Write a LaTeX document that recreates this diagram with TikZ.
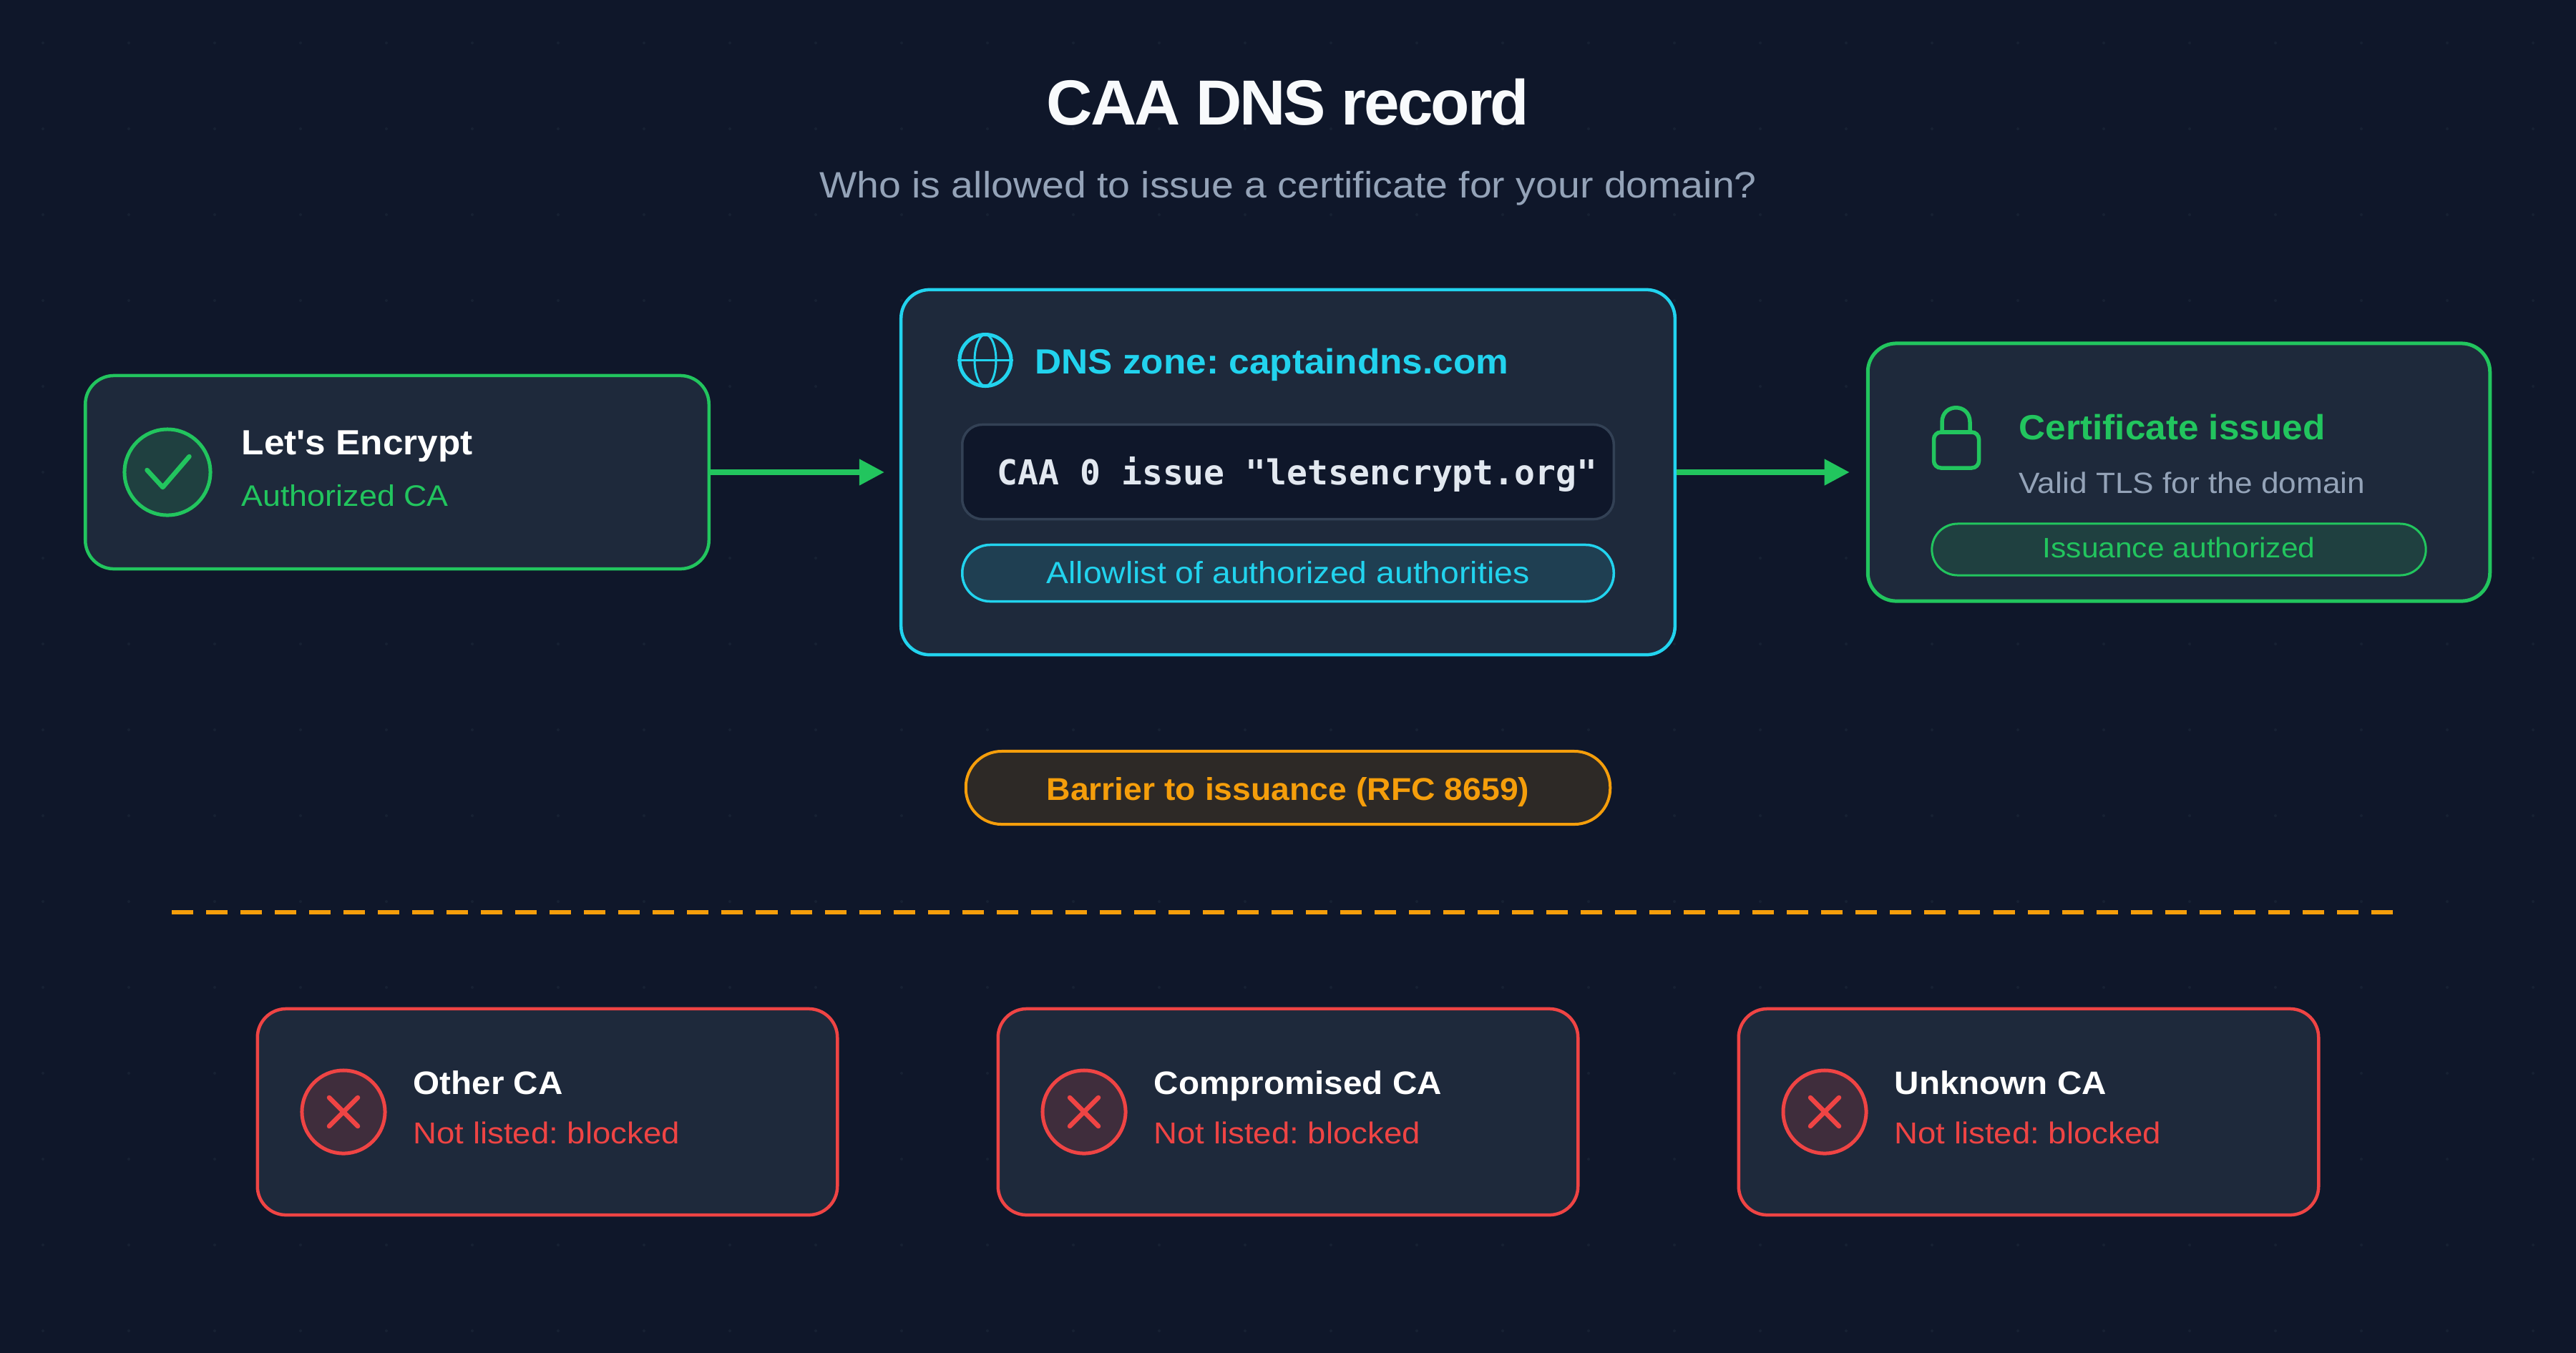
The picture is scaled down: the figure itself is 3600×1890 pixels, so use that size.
\documentclass[tikz,border=0pt]{standalone}
\usepackage{fontspec}
\newfontfamily\uifont[FakeStretch=1.08,BoldFeatures={FakeStretch=1.05}]{Liberation Sans}
\newfontfamily\titlefont[LetterSpace=-3.3]{Liberation Sans}
\newfontfamily\codefont{DejaVu Sans Mono}
\usetikzlibrary{arrows.meta}

\definecolor{pagebg}{HTML}{0F172A}
\definecolor{cardbg}{HTML}{1E293B}
\definecolor{edgegray}{HTML}{334155}
\definecolor{mutedgray}{HTML}{94A3B8}
\definecolor{codewhite}{HTML}{E2E8F0}
\definecolor{titlewhite}{HTML}{F8FAFC}
\definecolor{okgreen}{HTML}{22C55E}
\definecolor{zonecyan}{HTML}{22D3EE}
\definecolor{badred}{HTML}{EF4444}
\definecolor{barrieramber}{HTML}{F59E0B}

\tikzset{
	card/.style={draw,fill=cardbg,line width=0.45mm,rounded corners=4mm,inner sep=0},
	pill/.style={draw,line width=0.35mm,inner sep=0},
	iconring/.style={draw,circle,line width=0.5mm,inner sep=0,minimum size=#1},
	iconstroke/.style={line width=0.65mm,line cap=round,line join=round},
	headtext/.style={anchor=base west,inner sep=0,font=\uifont\bfseries\fontsize{13.9}{16}\selectfont},
	nametext/.style={anchor=base west,inner sep=0,text=white,font=\uifont\bfseries\fontsize{12.9}{16}\selectfont},
	subtext/.style={anchor=base west,inner sep=0,font=\uifont\fontsize{12}{14}\selectfont},
	flowarrow/.style={draw=okgreen,line width=0.75mm,-{Triangle[length=3.5mm,width=3.5mm]}}
}

\begin{document}
\frenchspacing
\begin{tikzpicture}[x=0.01cm,y=-0.01cm]
		\useasboundingbox (0,0) rectangle (3600,1890);
		\fill[pagebg] (-10,-10) rectangle (3610,1900);
		\foreach \dotx in {60,180,...,3540}
			\foreach \doty in {60,180,...,1860}
				\fill[cardbg!55!pagebg] (\dotx,\doty) circle (2);

		\node (title) at (1800,174)[anchor=base,inner sep=0,text=titlewhite,font=\titlefont\bfseries\fontsize{25.3}{30}\selectfont]{CAA DNS record};
		\node (subtitle) at (1800,276)[anchor=base,inner sep=0,text=mutedgray,font=\uifont\fontsize{14.6}{18}\selectfont]{Who is allowed to issue a certificate for your domain?};

		\node[card,draw=okgreen,minimum width=87.1cm/10,minimum height=27cm/10] (encrypt) at (555,660){};
		\node[iconring=12cm/10,draw=okgreen,fill=okgreen!15!cardbg] (encrypticon) at (234,660){};
		\draw[iconstroke,okgreen] (205.5,657) -- (227.5,681) -- (264.5,638);
		\node[headtext,text=white] (encryptname) at (337,635){Let's Encrypt};
		\node[subtext,text=okgreen,font=\uifont\fontsize{11.8}{14}\selectfont] (encryptrole) at (337,707.5){Authorized CA};

		\node[card,draw=zonecyan,minimum width=108.1cm/10,minimum height=51cm/10] (zone) at (1800,660){};
		\node[iconring=7.2cm/10,draw=zonecyan] (globe) at (1377,503.5){};
		\draw[zonecyan,line width=0.3mm] (globe.west) -- (globe.east);
		\draw[zonecyan,line width=0.3mm] (1377,503.5) ellipse (15 and 36);
		\node[headtext,text=zonecyan] (zonename) at (1446,522){DNS zone: captaindns.com};
		\node[draw=edgegray,fill=pagebg,line width=0.35mm,rounded corners=2.8mm,inner sep=0,minimum width=91cm/10,minimum height=13.2cm/10] (recordbox) at (1800,659.5){};
		\node[anchor=base west,inner sep=0,text=codewhite,font=\codefont\bfseries\fontsize{13.66}{16}\selectfont] (record) at (1393,677.5){CAA 0 issue "letsencrypt.org"};
		\node[pill,draw=zonecyan,fill=zonecyan!13!cardbg,rounded corners=3.9mm,minimum width=91cm/10,minimum height=7.9cm/10] (allowlist) at (1800,801){};
		\node[subtext,anchor=base,text=zonecyan,font=\uifont\fontsize{12.2}{14}\selectfont] (allowtext) at (1800,815.5){Allowlist of authorized authorities};

		\node[card,draw=okgreen,line width=0.5mm,minimum width=86.9cm/10,minimum height=36cm/10] (issued) at (3045,660){};
		\node[draw=okgreen,line width=0.55mm,rounded corners=1mm,inner sep=0,minimum width=6.3cm/10,minimum height=5cm/10] (lockbody) at (2734,629){};
		\draw[okgreen,line width=0.55mm] (2714,604) -- (2714,590) .. controls (2714,563) and (2753,563) .. (2753,590) -- (2753,604);
		\node[headtext,text=okgreen] (issuedname) at (2821,614){Certificate issued};
		\node[subtext,text=mutedgray,font=\uifont\fontsize{11.65}{14}\selectfont] (issuednote) at (2821,689){Valid TLS for the domain};
		\node[pill,draw=okgreen,line width=0.3mm,fill=okgreen!15!cardbg,rounded corners=3.6mm,minimum width=69cm/10,minimum height=7.2cm/10] (authorized) at (3045,768){};
		\node[subtext,anchor=base,text=okgreen,font=\uifont\fontsize{11.2}{14}\selectfont] (authorizedtext) at (3045,779){Issuance authorized};

		\draw[flowarrow,shorten >=2.1mm] (encrypt.east) -- (zone.west);
		\draw[flowarrow,shorten >=2.3mm] (zone.east) -- (issued.west);

		\node[pill,draw=barrieramber,line width=0.4mm,fill=barrieramber!13!pagebg,rounded corners=5mm,minimum width=90cm/10,minimum height=10.2cm/10] (barrier) at (1800,1101){};
		\node[anchor=base,inner sep=0,text=barrieramber,font=\uifont\bfseries\fontsize{12.55}{15}\selectfont] (barriertext) at (1800,1118.5){Barrier to issuance (RFC 8659)};

		\coordinate (fencestart) at (240,1275);
		\coordinate (fenceend) at (3360,1275);
		\draw[barrieramber,line width=0.65mm,dash pattern=on 3mm off 1.8mm] (fencestart) -- (fenceend);

		\node[card,draw=badred,minimum width=81cm/10,minimum height=28.8cm/10] (otherca) at (765,1554){};
		\node[iconring=11.6cm/10,draw=badred,fill=badred!16!cardbg] (othericon) at (480,1554){};
		\draw[iconstroke,badred] (460,1534) -- (500,1574);
		\draw[iconstroke,badred] (500,1534) -- (460,1574);
		\node[nametext] (othername) at (577,1529){Other CA};
		\node[subtext,text=badred] (othernote) at (577,1598){Not listed: blocked};

		\node[card,draw=badred,minimum width=81cm/10,minimum height=28.8cm/10] (compromisedca) at (1800,1554){};
		\node[iconring=11.6cm/10,draw=badred,fill=badred!16!cardbg] (compromisedicon) at (1515,1554){};
		\draw[iconstroke,badred] (1495,1534) -- (1535,1574);
		\draw[iconstroke,badred] (1535,1534) -- (1495,1574);
		\node[nametext] (compromisedname) at (1612,1529){Compromised CA};
		\node[subtext,text=badred] (compromisednote) at (1612,1598){Not listed: blocked};

		\node[card,draw=badred,minimum width=81cm/10,minimum height=28.8cm/10] (unknownca) at (2835,1554){};
		\node[iconring=11.6cm/10,draw=badred,fill=badred!16!cardbg] (unknownicon) at (2550,1554){};
		\draw[iconstroke,badred] (2530,1534) -- (2570,1574);
		\draw[iconstroke,badred] (2570,1534) -- (2530,1574);
		\node[nametext] (unknownname) at (2647,1529){Unknown CA};
		\node[subtext,text=badred] (unknownnote) at (2647,1598){Not listed: blocked};
\end{tikzpicture}
\end{document}
